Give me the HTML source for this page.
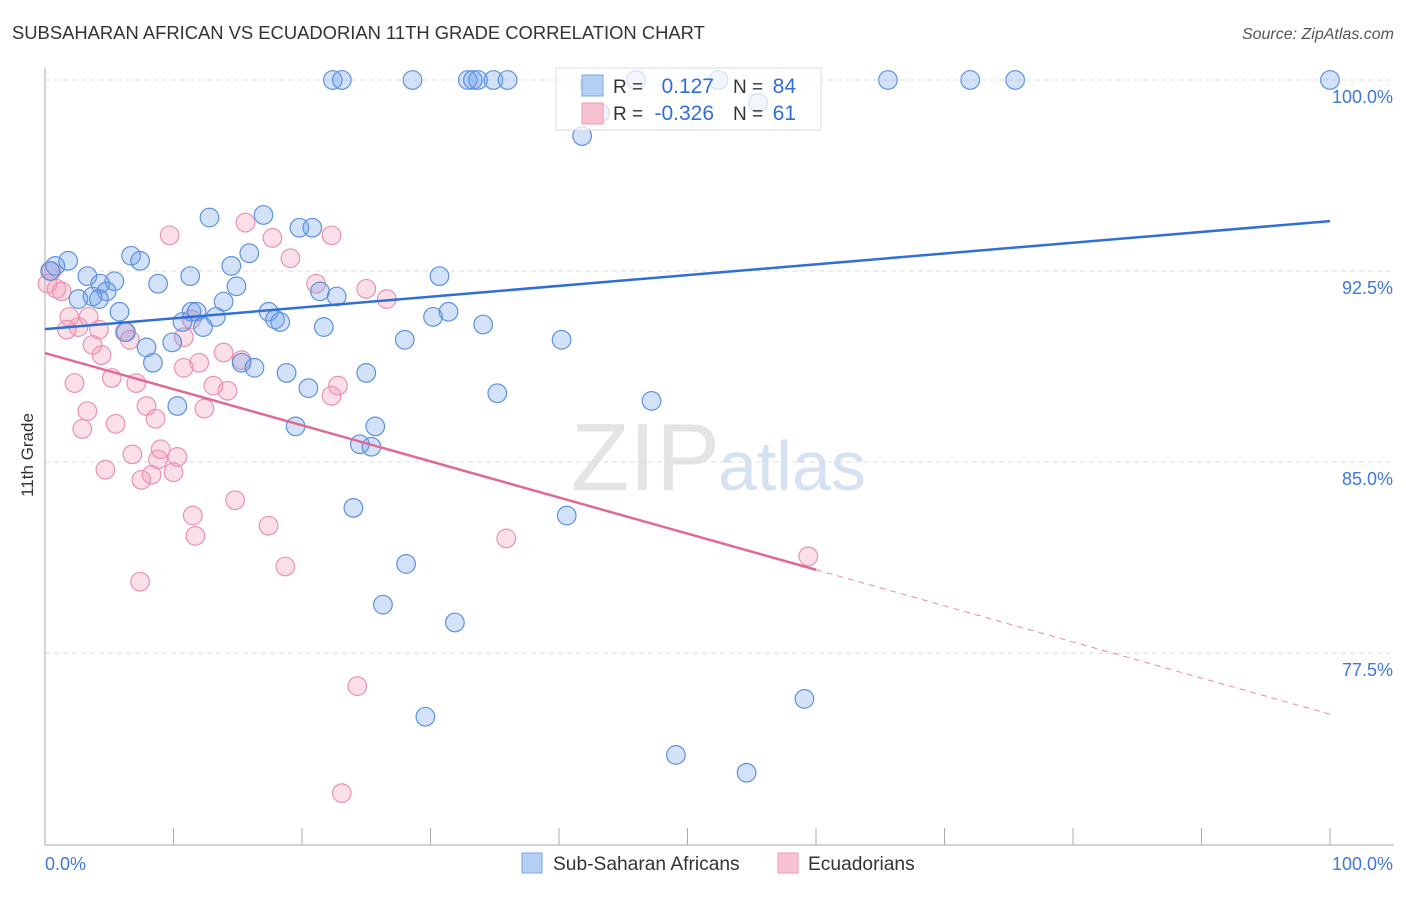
<!DOCTYPE html>
<html><head><meta charset="utf-8"><style>
body{margin:0;background:#fff;font-family:"Liberation Sans",sans-serif}
svg text{font-family:"Liberation Sans",sans-serif}
</style></head><body>
<svg id="c" width="1406" height="892" xmlns="http://www.w3.org/2000/svg">
<text x="12" y="39" font-size="18.4" fill="#333">SUBSAHARAN AFRICAN VS ECUADORIAN 11TH GRADE CORRELATION CHART</text>
<text x="1394" y="39" font-size="16" fill="#555" text-anchor="end" font-style="italic">Source: ZipAtlas.com</text>
<text x="33" y="455" font-size="17" fill="#333" text-anchor="middle" transform="rotate(-90 33 455)">11th Grade</text>
<text x="720" y="490" font-size="96" fill="#e4e4e4" text-anchor="end" font-family="Liberation Serif">ZIP</text>
<text x="718" y="490" font-size="70" fill="#d6e2f3">atlas</text>
<g id="grid"></g>
<g id="pts"></g><g id="lines"></g>
<g>
<rect x="556" y="68" width="265" height="62" fill="rgba(255,255,255,0.72)" stroke="#ddd"/>
<rect x="582" y="75" width="21" height="21" fill="#b5d0f5" stroke="#7aa6e6"/>
<rect x="582" y="103" width="21" height="21" fill="#f8c2d3" stroke="#ec9ab5"/>
<text x="613" y="93" font-size="19" fill="#333">R = </text><text x="714" y="93" font-size="21" fill="#2f6fd6" text-anchor="end">0.127</text>
<text x="733" y="93" font-size="19" fill="#333">N = </text><text x="796" y="93" font-size="21" fill="#2f6fd6" text-anchor="end">84</text>
<text x="613" y="120" font-size="19" fill="#333">R = </text><text x="714" y="120" font-size="21" fill="#2f6fd6" text-anchor="end">-0.326</text>
<text x="733" y="120" font-size="19" fill="#333">N = </text><text x="796" y="120" font-size="21" fill="#2f6fd6" text-anchor="end">61</text>
</g>
<g>
<rect x="522" y="853" width="20" height="20" fill="#b5d0f5" stroke="#7aa6e6"/>
<text x="553" y="870" font-size="19.2" fill="#333">Sub-Saharan Africans</text>
<rect x="778" y="853" width="20" height="20" fill="#f8c2d3" stroke="#ec9ab5"/>
<text x="808" y="870" font-size="19.2" fill="#333">Ecuadorians</text>
</g>
</svg>
<script>
const blueX=[22.4,23.1,28.6,32.9,33.3,33.7,34.9,36.0,46.0,65.6,72.0,75.5,100,42.4,52.4,43.2,55.5,41.8,12.8,17.0,19.8,20.8,15.9,6.7,7.4,1.8,0.8,0.4,3.3,5.4,11.3,14.5,30.7,8.8,4.3,4.8,14.9,2.6,3.7,21.4,22.7,13.9,11.4,11.8,13.3,5.8,17.4,17.9,18.3,21.7,10.7,12.3,30.2,31.4,34.1,40.2,28.0,7.9,9.9,6.3,8.4,15.3,16.3,18.8,25.0,20.5,35.2,47.2,10.3,19.5,25.7,24.5,25.4,24.0,40.6,28.1,26.3,31.9,59.1,29.6,49.1,54.6,4.2];
const blueY=[100,100,100,100,100,100,100,100,100,100,100,100,100,99.8,100,98.7,99.1,97.8,94.6,94.7,94.2,94.2,93.2,93.1,92.9,92.9,92.7,92.5,92.3,92.1,92.3,92.7,92.3,92.0,92.0,91.7,91.9,91.4,91.5,91.7,91.5,91.3,90.9,90.9,90.7,90.9,90.9,90.6,90.5,90.3,90.5,90.3,90.7,90.9,90.4,89.8,89.8,89.5,89.7,90.1,88.9,88.9,88.7,88.5,88.5,87.9,87.7,87.4,87.2,86.4,86.4,85.7,85.6,83.2,82.9,81.0,79.4,78.7,75.7,75.0,73.5,72.8,91.4];
const pinkX=[0.5,0.2,0.9,1.3,9.7,15.6,17.7,22.3,19.1,21.1,25.0,26.6,3.4,1.9,2.6,1.7,4.2,6.2,6.6,11.4,10.8,3.7,4.4,13.9,15.3,12.0,10.8,5.2,2.3,7.1,13.1,14.2,22.8,22.3,7.9,12.4,3.3,5.5,8.6,2.9,9.0,6.8,8.8,10.3,4.7,10.0,8.3,7.5,14.8,11.5,17.4,11.7,35.9,18.7,7.4,59.4,24.3,23.1,43.2];
const pinkY=[92.5,92.0,91.8,91.7,93.9,94.4,93.8,93.9,93.0,92.0,91.8,91.4,90.7,90.7,90.3,90.2,90.2,90.1,89.8,90.6,89.9,89.6,89.2,89.3,89.0,88.9,88.7,88.3,88.1,88.1,88.0,87.8,88.0,87.6,87.2,87.1,87.0,86.5,86.7,86.3,85.5,85.3,85.1,85.2,84.7,84.6,84.5,84.3,83.5,82.9,82.5,82.1,82.0,80.9,80.3,81.3,76.2,72.0,98.7];
const yTicks=[100,92.5,85,77.5];
const yTickLabels=["100.0%","92.5%","85.0%","77.5%"];
const blueTrend=[90.22,94.46];
const pinkTrend=[89.28,75.1];
const pinkSolidEnd=60;
const NS="http://www.w3.org/2000/svg";
const X0=45,X1=1330,Ytop=80,Ybot=845;
const sx=v=>X0+(X1-X0)*v/100;
const sy=v=>Ytop+(100-v)*25.47;
function mk(t,a,p){const e=document.createElementNS(NS,t);for(const k in a)e.setAttribute(k,a[k]);p.appendChild(e);return e;}
const g=document.getElementById('grid');
yTicks.forEach((t,i)=>{
 const l=mk('line',{x1:X0,x2:1394,y1:sy(t),y2:sy(t),stroke:'#ddd','stroke-dasharray':'5,4'},g);
 
 
 const tx=mk('text',{x:1393,y:sy(t)+23,'font-size':18,fill:'#3f78d8','text-anchor':'end'},g);
 tx.textContent=yTickLabels[i];
 
 
});
const ax=mk('line',{x1:X0,x2:X0,y1:68,y2:Ybot,stroke:'#aaa'},g);


const bx=mk('line',{x1:X0,x2:1394,y1:Ybot,y2:Ybot,stroke:'#aaa'},g);


for(let i=0;i<=10;i++){const t=mk('line',{x1:sx(i*10),x2:sx(i*10),y1:Ybot,y2:828,stroke:'#aaa'},g);
 
 }
[[0,'start','0.0%',45],[100,'end','100.0%',1393]].forEach(a=>{const t=mk('text',{x:a[3],y:870,'font-size':18,fill:'#3f78d8','text-anchor':a[1]},g);t.textContent=a[2];
 
 });
const P=document.getElementById('pts');
function dots(xs,ys,fill,stroke,name){xs.forEach((x,i)=>{const c=mk('circle',{cx:sx(x),cy:sy(ys[i]),r:9.3,fill:fill,stroke:stroke,'stroke-width':1.2},P);
 
 });}
dots(pinkX,pinkY,'rgba(242,150,180,0.3)','#ea93b0','ecuadorian-point');
dots(blueX,blueY,'rgba(110,160,232,0.3)','#5d92de','sub-saharan-point');
const L=document.getElementById('lines');
const bl=mk('line',{x1:sx(0),y1:sy(blueTrend[0]),x2:sx(100),y2:sy(blueTrend[1]),stroke:'#2f6fd6','stroke-width':2.5},L);


const pm=pinkTrend[0]+(pinkTrend[1]-pinkTrend[0])*pinkSolidEnd/100;
const pl=mk('line',{x1:sx(0),y1:sy(pinkTrend[0]),x2:sx(pinkSolidEnd),y2:sy(pm),stroke:'#e06a94','stroke-width':2.5},L);


const pd=mk('line',{x1:sx(pinkSolidEnd),y1:sy(pm),x2:sx(100),y2:sy(pinkTrend[1]),stroke:'#e98aa8','stroke-width':1,'stroke-dasharray':'6,5'},L);


</script>
</body></html>
